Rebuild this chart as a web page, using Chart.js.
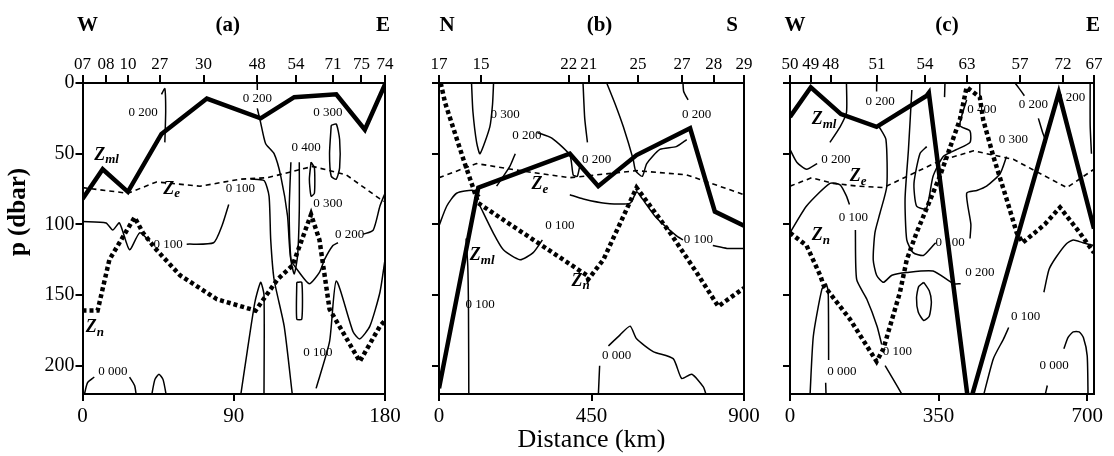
<!DOCTYPE html>
<html>
<head>
<meta charset="utf-8">
<script src="https://cdn.jsdelivr.net/npm/chart.js@4.4.1/dist/chart.umd.min.js"></script>
<style>
  body { margin: 0; background: #fff; }
  #wrap { position: relative; width: 1114px; height: 456px; }
  canvas { position: absolute; top: 0; }
</style>
</head>
<body>
<div id="wrap">
  <canvas id="pa" width="404" height="456" style="left:0"></canvas>
  <canvas id="pb" width="361" height="456" style="left:404px"></canvas>
  <canvas id="pc" width="349" height="456" style="left:765px"></canvas>
</div>
<script>
// ---- shared ----
const P_MAX = 220;
const pTicks = [0, 50, 100, 150, 200];

// ---- panel (a) W-E ----
const headersA = ['W', '(a)', 'E'];
const stationsA = ['07', '08', '10', '27', '30', '48', '54', '71', '75', '74'];
const stationKmA = [0, 14, 27, 46, 72, 104, 127, 149, 166, 180];
const distTicksA = [0, 90, 180];
const zmlA = [[0,82],[12,61],[27,77],[47,36],[74,11],[106,25],[126,10],[151,8],[168,33],[180,1]];
const zeA = [[0,74],[27,78],[44,70],[70,73],[94,68],[110,67],[137,59],[157,65],[177,82],[180,84]];
const znA = [[0,161],[9,161],[16,125],[31,95],[36,106],[44,118],[58,136],[80,153],[103,161],[116,139],
  [125,129],[136,93],[141,111],[147,160],[165,197],[177,172],[180,168]];
const contoursA = [
  [[0,98],[14,99],[18,104],[22,99],[28,118],[34,106],[40,112]],
  [[62,114],[78,113],[83,101],[87,86]],
  [[100,68],[108,69],[111,80],[112,111],[114,139],[120,172],[125,222]],
  [[104,0],[104,5]],
  [[104,18],[106,28],[109,43],[114,50],[118,66],[122,94],[124,125],[129,134],[135,142],[141,134],[144,125],[149,115],[152,113]],
  [[167,107],[173,104],[177,87],[180,78]],
  [[47,8],[49,4],[49.5,20],[49,42]],
  [[124,56],[123,90],[124,125],[126,135],[128,122],[129,90],[129,56]],
  [[148,30],[147,50],[148,66],[151,68],[153,60],[153,40],[151,29],[148,30]],
  [[136,56],[135,68],[136,80],[138,78],[138,60],[136,56]],
  [[127.5,141],[130.5,141],[130.5,167],[127.5,167],[127.5,141]],
  [[94,222],[98,190],[102.6,155],[106,141],[108,150],[108,222]],
  [[139,216],[147,183],[151,140],[161,176],[165,181],[171,172],[177,148],[180,125]],
  [[1,221],[3,212],[7,208]],
  [[28,208],[31,214],[32,221]],
  [[41,222],[43,210],[45.5,206],[48,210],[50,222]]
];
const contourTextA = [[36,21,'0 200'],[104,11,'0 200'],[146,21,'0 300'],[133,46,'0 400'],[146,85,'0 300'],
  [159,107,'0 200'],[51,114,'0 100'],[94,75,'0 100'],[140,191,'0 100'],[18,204,'0 000']];
const seriesTextA = [['ml',7,51],['e',48,75],['n',2,173]];

// ---- panel (b) N-S ----
const headersB = ['N', '(b)', 'S'];
const stationsB = ['17', '15', '22', '21', '25', '27', '28', '29'];
const stationKmB = [0, 124, 383, 442, 587, 717, 811, 900];
const distTicksB = [0, 450, 900];
const zmlB = [[0,216],[116,74],[386,50],[470,73],[583,51],[741,32],[814,91],[900,101]];
const zeB = [[0,67],[111,57],[239,62],[386,67],[583,62],[731,65],[900,79]];
const znB = [[5,0],[18,14],[72,54],[116,85],[436,136],[440,139],[485,125],[583,74],[682,106],[760,134],[824,158],[900,145]];
const contoursB = [
  [[96,0],[100,20],[111,42],[121,50],[150,31],[158,15],[161,0]],
  [[170,73],[209,59],[225,50]],
  [[290,35],[333,39],[386,51],[396,65],[408,66],[416,58]],
  [[425,0],[430,25],[438,42]],
  [[495,0],[520,15],[544,31],[573,54],[580,62],[600,66],[613,57],[652,47],[700,45],[731,40]],
  [[720,0],[722,6],[735,12]],
  [[0,101],[23,87],[52,78],[101,76],[121,80]],
  [[121,87],[160,106],[190,118],[239,125],[278,120],[305,111]],
  [[386,79],[426,82],[490,85],[564,85],[583,77],[600,82],[640,95],[700,108],[720,111]],
  [[808,115],[850,117],[900,117]],
  [[80,110],[85,130],[87,160],[88,222]],
  [[470,222],[474,200]],
  [[500,186],[535,178],[564,172],[583,181],[632,190],[691,195],[716,209],[746,206],[780,215],[790,222]]
];
const contourTextB = [[195,22,'0 300'],[259,37,'0 200'],[465,54,'0 200'],[760,22,'0 200'],[357,101,'0 100'],
  [765,111,'0 100'],[121,157,'0 100'],[524,193,'0 000']];
const seriesTextB = [['ml',91,122],['e',273,72],['n',391,140]];

// ---- panel (c) W-E ----
const headersC = ['W', '(c)', 'E'];
const stationsC = ['50', '49', '48', '51', '54', '63', '57', '72', '67'];
const stationKmC = [0, 49, 96, 205, 318, 417, 542, 643, 716];
const distTicksC = [0, 350, 700];
const zmlC = [[0,24],[49,3],[120,22],[204,31],[322,9],[327,7],[420,226],[424,226],[633,7],[716,103]];
const zeC = [[0,73],[51,67],[102,71],[160,73],[220,74],[283,65],[353,55],[432,48],[526,54],[589,64],[652,74],[716,61]];
const znC = [[0,106],[39,115],[71,136],[79,143],[141,167],[204,197],[220,188],[259,148],[275,125],[298,106],
  [353,66],[400,26],[416,3],[447,10],[455,26],[479,52],[510,82],[534,106],[548,113],[600,100],[636,88],[680,105],[716,120]];
const contoursC = [
  [[0,47],[16,56],[39,61],[64,57]],
  [[94,42],[118,31],[133,21],[133,0]],
  [[204,0],[204,6]],
  [[0,106],[39,87],[94,71],[118,72],[133,80],[140,86]],
  [[154,104],[157,139],[181,153],[205,172],[216,185]],
  [[224,200],[240,208],[267,222]],
  [[47,222],[55,179],[75,146],[85,142],[90,148],[91,196]],
  [[84,212],[85,222]],
  [[600,222],[606,214]],
  [[645,188],[655,180],[667,176],[681,176],[691,180],[700,193],[702,222]],
  [[455,222],[479,195],[503,181],[515,173]],
  [[598,148],[610,132],[625,124],[650,114],[667,111],[690,113],[716,115]],
  [[210,31],[226,40],[228,73],[212,92],[200,106],[196,125],[204,136],[220,141],[240,136],[275,134],[337,133],[385,142],[402,142]],
  [[315,141],[328,147],[333,155],[328,165],[315,168],[302,162],[298,152],[303,144],[315,141]],
  [[416,12],[400,30],[424,34],[424,42],[393,47],[361,52],[337,66],[321,89],[298,87],[292,71],[306,50],[322,45]],
  [[287,5],[279,47],[271,82],[275,111],[290,120],[314,122],[334,116],[343,113]],
  [[424,110],[426,100],[416,78],[440,76],[463,73],[495,64],[510,52]],
  [[365,0],[364,10]],
  [[447,0],[447,9]],
  [[530,0],[540,4],[552,9]],
  [[585,25],[595,35],[604,42]],
  [[707,0],[707,30],[710,50]]
];
const contourTextC = [[212,13,'0 200'],[108,54,'0 200'],[149,95,'0 100'],[253,190,'0 100'],[122,204,'0 000'],
  [447,134,'0 200'],[377,113,'0 100'],[452,19,'0 400'],[526,40,'0 300'],[573,15,'0 200'],[661,10,'0 200'],
  [555,165,'0 100'],[622,200,'0 000']];
const seriesTextC = [['ml',51,26],['e',141,66],['n',51,108]];

const SERIF = '"Liberation Serif", "Times New Roman", serif';
Chart.defaults.font.family = SERIF;
Chart.defaults.color = '#000';

function line(pts, width, dash, tension) {
  return {
    data: pts.map(([d, p]) => ({x: d, y: p})),
    borderColor: '#000',
    borderWidth: width,
    borderDash: dash,
    borderCapStyle: 'butt',
    pointRadius: 0,
    tension: tension,
    fill: false
  };
}

function drawPanel(id, cfg) {
  const datasets = cfg.contours.map(c => line(c, 1.5, [], 0.2));
  datasets.push(line(cfg.ze, 1.6, [5, 4], 0));
  datasets.push(line(cfg.zn, 4.5, [4, 3], 0));
  datasets.push(line(cfg.zml, 4.5, [], 0));

  const tickGrid = {drawOnChartArea: false, tickLength: 7, lineWidth: 2, color: '#000'};
  const border = {width: 2, color: '#000'};

  const decor = {
    id: 'decor',
    afterDatasetsDraw(chart) {
      const {ctx, chartArea: a, scales: {x, y}} = chart;
      ctx.save();
      ctx.strokeStyle = '#000';
      ctx.lineWidth = 2;
      ctx.beginPath();
      ctx.moveTo(a.right, a.top);
      ctx.lineTo(a.right, a.bottom);
      ctx.stroke();

      ctx.fillStyle = '#000';
      ctx.textAlign = 'center';
      ctx.textBaseline = 'middle';
      ctx.font = '13px ' + SERIF;
      cfg.texts.forEach(([d, p, t]) => ctx.fillText(t, x.getPixelForValue(d), y.getPixelForValue(p)));

      ctx.textAlign = 'left';
      cfg.series.forEach(([sub, d, p]) => {
        const px = x.getPixelForValue(d), py = y.getPixelForValue(p);
        ctx.font = 'italic bold 18px ' + SERIF;
        ctx.fillText('Z', px, py);
        const w = ctx.measureText('Z').width;
        ctx.font = 'italic bold 13px ' + SERIF;
        ctx.fillText(sub, px + w, py + 5);
      });

      ctx.font = 'bold 21px ' + SERIF;
      ctx.textAlign = 'center';
      const mid = (a.left + a.right) / 2;
      ctx.fillText(cfg.headers[0], a.left + cfg.hx[0], 26);
      ctx.fillText(cfg.headers[1], mid + cfg.hx[1], 26);
      ctx.fillText(cfg.headers[2], a.right + cfg.hx[2], 26);

      if (cfg.yTitle) {
        ctx.translate(19, 212);
        ctx.rotate(-Math.PI / 2);
        ctx.font = 'bold 25px ' + SERIF;
        ctx.fillText(cfg.yTitle, 0, 0);
      }
      ctx.restore();
    }
  };

  const ctx = document.getElementById(id).getContext('2d');
  return new Chart(ctx, {
    type: 'line',
    data: {datasets: datasets},
    plugins: [decor],
    options: {
      responsive: false,
      animation: false,
      layout: {autoPadding: false, padding: {left: 0, right: cfg.rightPad, top: 0, bottom: 0}},
      plugins: {legend: {display: false}, tooltip: {enabled: false}, title: {display: false}},
      scales: {
        x: {
          type: 'linear', position: 'bottom', min: 0, max: cfg.maxKm,
          afterBuildTicks: s => { s.ticks = cfg.distTicks.map(v => ({value: v})); },
          afterFit: s => { s.height = 62; s.paddingLeft = 0; s.paddingRight = 0; },
          ticks: {autoSkip: false, maxRotation: 0, minRotation: 0, padding: 3, font: {size: 21}, callback: v => String(v)},
          grid: tickGrid, border: border,
          title: cfg.xTitle
            ? {display: true, text: cfg.xTitle, font: {size: 26}, padding: {top: 0, bottom: 0}}
            : {display: false}
        },
        top: {
          type: 'linear', position: 'top', min: 0, max: cfg.maxKm,
          afterBuildTicks: s => { s.ticks = cfg.stationKm.map(v => ({value: v})); },
          afterFit: s => { s.height = 83; s.paddingLeft = 0; s.paddingRight = 0; },
          ticks: {autoSkip: false, maxRotation: 0, minRotation: 0, padding: 0, font: {size: 17},
            callback: (v, i) => cfg.stations[i]},
          grid: Object.assign({}, tickGrid, {tickLength: 8}), border: border
        },
        y: {
          type: 'linear', reverse: true, min: 0, max: P_MAX,
          afterBuildTicks: s => { s.ticks = pTicks.map(v => ({value: v})); },
          afterFit: s => { s.width = cfg.yWidth; s.paddingTop = 0; s.paddingBottom = 0; },
          ticks: {display: cfg.yLabels, padding: 1, font: {size: 20}, callback: v => String(v)},
          grid: tickGrid, border: border
        }
      }
    }
  });
}

drawPanel('pa', {
  headers: headersA, hx: [5, -6, -2], stations: stationsA, stationKm: stationKmA, distTicks: distTicksA,
  maxKm: 180, zml: zmlA, ze: zeA, zn: znA, contours: contoursA, texts: contourTextA, series: seriesTextA,
  yWidth: 82.5, rightPad: 19, yLabels: true, yTitle: 'p (dbar)', xTitle: null
});
drawPanel('pb', {
  headers: headersB, hx: [8, 8, -12], stations: stationsB, stationKm: stationKmB, distTicks: distTicksB,
  maxKm: 900, zml: zmlB, ze: zeB, zn: znB, contours: contoursB, texts: contourTextB, series: seriesTextB,
  yWidth: 35, rightPad: 21, yLabels: false, yTitle: null, xTitle: 'Distance (km)'
});
drawPanel('pc', {
  headers: headersC, hx: [5, 5, -1], stations: stationsC, stationKm: stationKmC, distTicks: distTicksC,
  maxKm: 716, zml: zmlC, ze: zeC, zn: znC, contours: contoursC, texts: contourTextC, series: seriesTextC,
  yWidth: 25, rightPad: 20, yLabels: false, yTitle: null, xTitle: null
});
</script>
</body>
</html>
